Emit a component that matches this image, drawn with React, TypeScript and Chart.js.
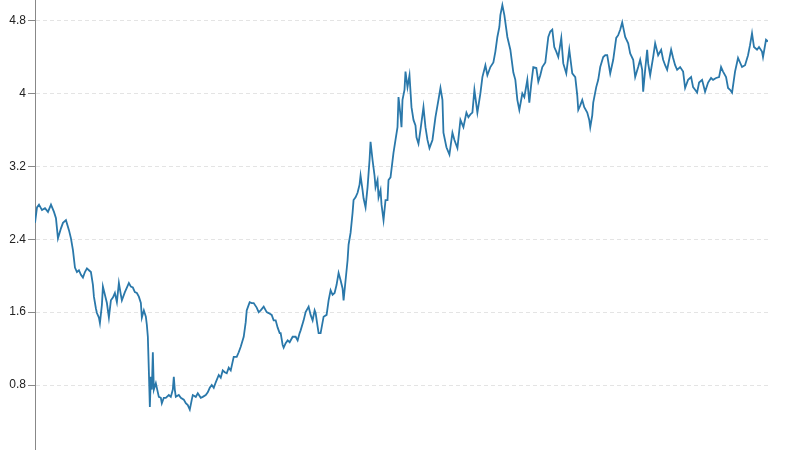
import React, { useEffect, useRef } from "react";
import { Chart, registerables } from "chart.js";

Chart.register(...registerables);

const days: number[] = [
  0, 2, 4, 7, 10, 13, 16, 19, 21, 23, 26, 28, 31, 34, 36, 38, 40, 42, 44, 46, 48, 50, 52, 54, 56, 58, 59, 61, 62, 64, 65, 67, 68, 70, 72, 74, 76, 78, 80, 82, 84, 86, 87, 90, 92, 94, 96, 98, 100, 102, 104, 106, 107, 109, 111, 112, 113, 114, 115, 116, 117, 118, 119, 121, 123, 124, 126, 127, 129, 131, 134, 136, 138, 139, 140, 141, 144, 146, 149, 151, 153, 155, 157, 158, 161, 163, 166, 168, 171, 173, 175, 177, 179, 181, 184, 186, 188, 190, 192, 194, 196, 199, 202, 204, 206, 209, 211, 212, 214, 215, 217, 219, 222, 224, 226, 229, 232, 234, 237, 239, 241, 243, 245, 246, 248, 249, 251, 253, 255, 258, 261, 263, 265, 266, 269, 271, 274, 276, 278, 280, 281, 283, 284, 286, 289, 292, 294, 296, 298, 300, 302, 304, 306, 308, 309, 311, 313, 314, 316, 318, 319, 321, 323, 325, 326, 328, 329, 331, 333, 335, 336, 338, 340, 341, 343, 344, 346, 347, 349, 351, 353, 354, 356, 359, 361, 363, 364, 366, 367, 368, 370, 371, 373, 375, 377, 379, 381, 382, 384, 386, 389, 391, 393, 395, 398, 401, 404, 406, 408, 409, 412, 415, 418, 420, 423, 426, 429, 432, 434, 436, 438, 440, 443, 446, 448, 451, 453, 456, 459, 461, 463, 465, 466, 468, 470, 472, 473, 476, 479, 481, 483, 485, 488, 490, 493, 495, 497, 499, 502, 504, 506, 508, 511, 514, 516, 518, 520, 522, 524, 527, 529, 532, 535, 538, 541, 543, 544, 546, 548, 550, 553, 555, 556, 558, 559, 562, 564, 566, 569, 571, 573, 576, 579, 582, 584, 586, 588, 591, 594, 596, 599, 601, 604, 606, 608, 609, 611, 613, 614, 616, 619, 621, 624, 627, 629, 631, 633, 635, 637, 639, 641, 643, 646, 649, 651, 654, 657, 659, 661, 663, 665, 668, 671, 674, 677, 679, 682, 685, 687, 689, 692, 694, 696, 698, 701, 704, 706, 708, 711, 714, 716, 718, 720, 723, 725, 728, 729, 732, 734,
];

const values: number[] = [
  2.58, 2.75, 2.78, 2.72, 2.74, 2.7, 2.78, 2.7, 2.63, 2.41, 2.52, 2.58, 2.61, 2.5, 2.41, 2.28, 2.09, 2.04, 2.06, 2.01, 1.98, 2.04, 2.08, 2.06, 2.04, 1.9, 1.77, 1.64, 1.59, 1.54, 1.48, 1.68, 1.88, 1.79, 1.7, 1.54, 1.73, 1.76, 1.81, 1.71, 1.92, 1.79, 1.73, 1.82, 1.87, 1.92, 1.88, 1.87, 1.82, 1.81, 1.77, 1.7, 1.54, 1.62, 1.55, 1.46, 1.33, 0.96, 0.56, 0.89, 0.75, 1.16, 0.75, 0.82, 0.72, 0.67, 0.66, 0.6, 0.66, 0.66, 0.69, 0.67, 0.75, 0.89, 0.75, 0.67, 0.69, 0.66, 0.64, 0.6, 0.58, 0.53, 0.64, 0.69, 0.67, 0.71, 0.66, 0.67, 0.69, 0.72, 0.77, 0.8, 0.77, 0.83, 0.91, 0.88, 0.96, 0.94, 0.93, 0.99, 0.96, 1.11, 1.11, 1.16, 1.22, 1.33, 1.49, 1.62, 1.68, 1.71, 1.7, 1.7, 1.65, 1.6, 1.62, 1.66, 1.6, 1.59, 1.57, 1.51, 1.51, 1.43, 1.37, 1.37, 1.24, 1.21, 1.26, 1.29, 1.27, 1.33, 1.33, 1.29, 1.37, 1.4, 1.51, 1.6, 1.66, 1.57, 1.51, 1.62, 1.59, 1.44, 1.37, 1.37, 1.55, 1.57, 1.73, 1.84, 1.79, 1.81, 1.9, 2.03, 1.95, 1.86, 1.73, 1.95, 2.17, 2.34, 2.47, 2.69, 2.83, 2.86, 2.91, 3.0, 3.1, 2.94, 2.85, 2.75, 2.97, 3.27, 3.47, 3.27, 3.1, 2.97, 3.05, 2.86, 2.94, 2.78, 2.61, 2.83, 2.83, 3.05, 3.08, 3.35, 3.49, 3.63, 3.96, 3.76, 3.63, 3.93, 4.04, 4.24, 4.07, 4.2, 3.85, 3.71, 3.65, 3.52, 3.45, 3.6, 3.85, 3.63, 3.49, 3.4, 3.49, 3.74, 3.93, 4.06, 3.93, 3.57, 3.41, 3.33, 3.57, 3.49, 3.4, 3.71, 3.63, 3.79, 3.74, 3.77, 3.79, 4.04, 3.79, 4.0, 4.18, 4.31, 4.2, 4.29, 4.34, 4.46, 4.62, 4.73, 4.86, 4.97, 4.86, 4.7, 4.62, 4.48, 4.23, 4.15, 3.93, 3.82, 4.0, 3.96, 4.15, 3.9, 4.11, 4.29, 4.28, 4.13, 4.2, 4.29, 4.34, 4.62, 4.68, 4.7, 4.51, 4.46, 4.4, 4.61, 4.33, 4.22, 4.48, 4.22, 4.18, 3.98, 3.82, 3.87, 3.93, 3.85, 3.79, 3.71, 3.63, 3.76, 3.9, 4.07, 4.15, 4.29, 4.4, 4.42, 4.42, 4.22, 4.37, 4.61, 4.64, 4.7, 4.78, 4.62, 4.55, 4.44, 4.37, 4.18, 4.29, 4.37, 4.26, 4.02, 4.26, 4.48, 4.33, 4.2, 4.4, 4.55, 4.42, 4.48, 4.37, 4.31, 4.26, 4.37, 4.48, 4.39, 4.31, 4.26, 4.29, 4.24, 4.06, 4.15, 4.18, 4.07, 4.04, 4.01, 4.12, 4.15, 4.02, 4.12, 4.17, 4.15, 4.17, 4.18, 4.29, 4.24, 4.18, 4.06, 4.04, 4.01, 4.24, 4.39, 4.34, 4.29, 4.31, 4.42, 4.53, 4.66, 4.51, 4.48, 4.51, 4.46, 4.4, 4.59, 4.57,
];

const yTickValues: number[] = [0.8, 1.6, 2.4, 3.2, 4, 4.8];
const yTickLabels: string[] = ["0.8", "1.6", "2.4", "3.2", "4", "4.8"];

export default function App() {
  const ref = useRef<HTMLCanvasElement | null>(null);

  useEffect(() => {
    if (!ref.current) return;
    const n = Math.min(days.length, values.length);
    const points = [] as { x: number; y: number }[];
    for (let i = 0; i < n; i++) points.push({ x: days[i], y: values[i] });
    const chart = new Chart(ref.current, {
      type: "line",
      data: {
        datasets: [
          {
            data: points,
            borderColor: "#2a78aa",
            borderWidth: 1.8,
            pointRadius: 0,
            tension: 0,
            fill: false,
          },
        ],
      },
      options: {
        animation: false,
        responsive: true,
        maintainAspectRatio: false,
        layout: { padding: { left: 0, right: 32, top: 0, bottom: 0 } },
        plugins: { legend: { display: false }, tooltip: { enabled: false } },
        scales: {
          x: {
            type: "linear",
            display: false,
            min: days[0],
            max: days[days.length - 1],
          },
          y: {
            type: "linear",
            min: 0.087,
            max: 5.026,
            afterFit: (scale: any) => {
              scale.width = 35;
              scale.paddingTop = 0;
              scale.paddingBottom = 0;
            },
            afterBuildTicks: (scale: any) => {
              scale.ticks = yTickValues.map((v) => ({ value: v }));
            },
            ticks: {
              padding: 2,
              color: "#222",
              font: { family: "'Liberation Sans', Arial, sans-serif", size: 12 },
              callback: (v: any) => {
                const i = yTickValues.findIndex((t) => Math.abs(t - Number(v)) < 1e-6);
                return i >= 0 ? yTickLabels[i] : "";
              },
            },
            grid: {
              color: "#e4e4e4",
              lineWidth: 1,
              tickLength: 7,
              tickColor: "#888",
              drawTicks: true,
            },
            border: { display: true, color: "#888", width: 1, dash: [4, 3] },
          },
        },
      },
    });
    return () => chart.destroy();
  }, []);

  return (
    <div style={{ position: "fixed", left: 0, top: 0, width: 800, height: 450, background: "#fff" }}>
      <canvas ref={ref} />
    </div>
  );
}
